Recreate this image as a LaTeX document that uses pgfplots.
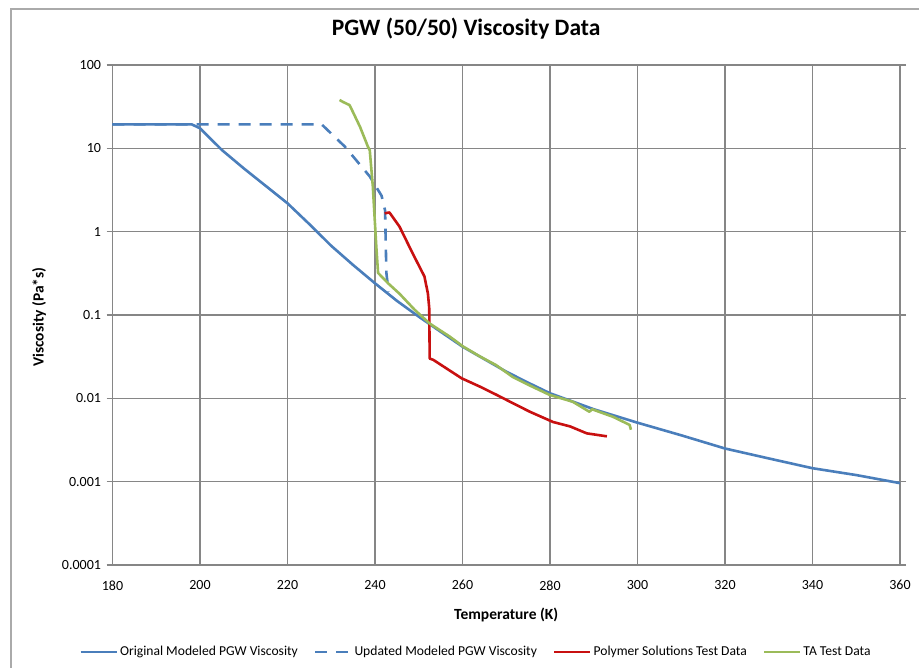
\documentclass[border=0pt]{standalone}
\usepackage{fontspec}
\setmainfont{Carlito}
\usepackage{pgfplots}
\pgfplotsset{compat=1.18}
\definecolor{origblue}{RGB}{74,126,187}
\definecolor{polyred}{RGB}{200,16,16}
\definecolor{tagreen}{RGB}{155,187,89}
\definecolor{gridgray}{RGB}{134,134,134}
\begin{document}
\begin{tikzpicture}[x=1pt,y=1pt]
\useasboundingbox (0,0) rectangle (919,668);
\draw[gridgray!70, line width=1.2pt] (11,-20) -- (11,659) -- (940,659);
\begin{axis}[
  at={(112.5pt,103pt)}, anchor=south west,
  scale only axis, width=787.5pt, height=500pt,
  xmin=180, xmax=360, ymode=log, ymin=1e-4, ymax=100,
  xtick={180,200,...,360},
  xticklabels={180,200,220,240,260,280,300,320,340,360},
  ytick={1e-4,1e-3,1e-2,1e-1,1,10,100},
  yticklabels={0.0001,0.001,0.01,0.1,1,10,100},
  yminorticks=false,
  grid=major,
  major grid style={gridgray, line width=1.2pt},
  axis line style={gridgray, line width=1.2pt},
  ytick align=outside, major tick length=6pt,
  ytick style={gridgray, line width=1.2pt},
  xtick style={draw=none},
  tick label style={font=\fontsize{14}{16}\selectfont, text=black},
  yticklabel style={xshift=-2pt},
  xticklabel style={yshift=-12pt},
  title={PGW (50/50) Viscosity Data},
  title style={at={(0.449,1.06)}, anchor=center, font=\fontsize{23.5}{27}\selectfont\bfseries},
  xlabel={Temperature (K)},
  xlabel style={at={(0.5,-0.1)}, anchor=center, font=\fontsize{15.5}{18}\selectfont\bfseries},
  ylabel={Viscosity (Pa*s)},
  ylabel style={at={(-0.0933,0.496)}, anchor=center, font=\fontsize{15.5}{18}\selectfont\bfseries},
  legend style={at={(0.4616,-0.174)}, anchor=center, draw=none, fill=none,
    legend columns=4, font=\fontsize{13.6}{15}\selectfont,
    /tikz/every even column/.append style={column sep=14pt}},
  legend cell align=left,
  legend image code/.code={\draw[#1] (0pt,0pt) -- (36pt,0pt);},
  every axis plot/.append style={line width=2.6pt, line join=round},
]
\addplot[origblue] coordinates {
(180,19.4) (198.1,19.4) (200,17.4) (205,9.55) (210,5.75) (215,3.55) (220,2.19)
(225,1.23) (230,0.676) (235,0.398) (240,0.240) (245,0.148) (250,0.0955)
(255,0.063) (260,0.0417) (265,0.0295) (270,0.0209) (275,0.0154) (280,0.0115)
(290,0.0074) (300,0.0051) (310,0.0036) (320,0.0025) (330,0.0019) (340,0.00145)
(350,0.0012) (360,0.00096)
};
\addlegendentry{Original Modeled PGW Viscosity}
\addplot[origblue, dash pattern=on 12pt off 9pt] coordinates {
(180,19.4) (227.8,19.4) (233.1,10.5) (238.8,4.6) (241.5,2.7) (242.3,1.8)
(242.6,0.32) (243.1,0.19)
};
\addlegendentry{Updated Modeled PGW Viscosity}
\addplot[polyred] coordinates {
(242.2,1.66) (243.3,1.70) (245.6,1.15) (248.6,0.55) (251.3,0.29) (252.1,0.18)
(252.4,0.12) (252.5,0.030) (253.3,0.029) (259.8,0.0174) (264.0,0.0138)
(267.8,0.011) (271.6,0.0087) (275.4,0.0069) (280.7,0.0052) (284.6,0.0046)
(288.4,0.0038) (293,0.0035)
};
\addlegendentry{Polymer Solutions Test Data}
\addplot[tagreen] coordinates {
(231.9,38) (232.7,36) (234.2,33) (236.6,18) (238.4,10.4) (238.8,9.5) (239.5,3.5)
(240.3,0.66) (240.7,0.32) (243,0.24) (245.6,0.18) (249.1,0.115) (252.5,0.079)
(257.1,0.055) (260.1,0.042) (263.9,0.032) (267.7,0.025) (271.5,0.018)
(275.7,0.014) (279.9,0.011) (285.2,0.0091) (289,0.0069) (289.6,0.0074)
(294.4,0.006) (298.2,0.0048) (298.5,0.0042)
};
\addlegendentry{TA Test Data}
\end{axis}
\end{tikzpicture}
\end{document}
